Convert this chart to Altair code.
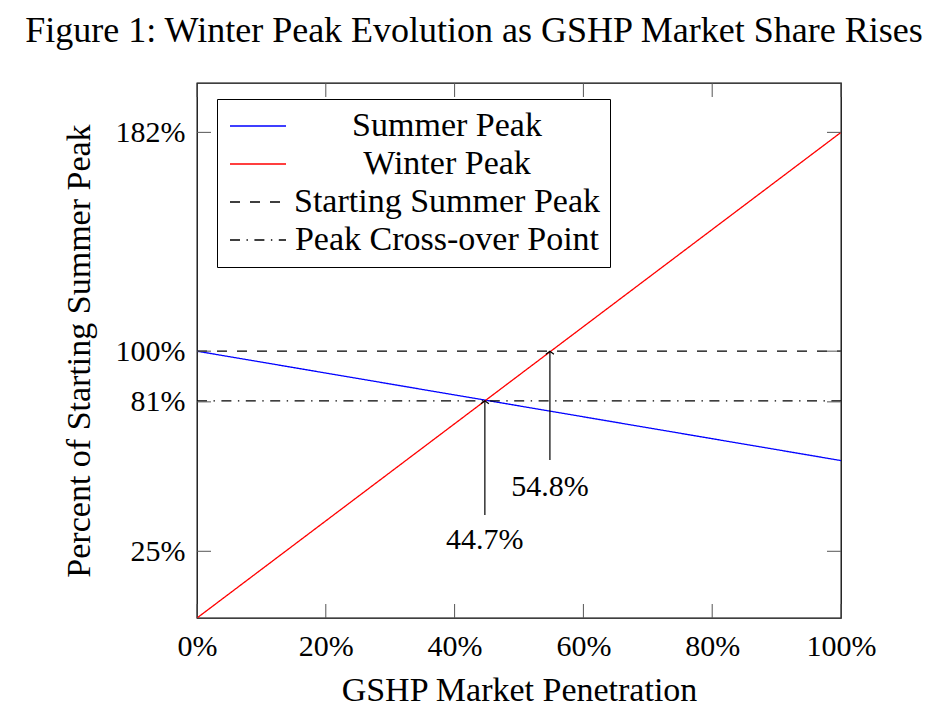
import altair as alt
import pandas as pd

FONT = "Liberation Serif"

# ---- data ----
series_names = ["Summer Peak", "Winter Peak", "Starting Summer Peak", "Peak Cross-over Point"]
series_x = [[0, 100], [0, 100], [0, 100], [0, 100]]
series_y = [[100, 59], [0, 182], [100, 100], [81.4, 81.4]]
series_colors = ["#0000ff", "#ff0000", "#000000", "#000000"]
series_dash = [[1, 0], [1, 0], [10, 10], [10, 6.5, 1.4, 6.5]]

x_ticks = [0, 20, 40, 60, 80, 100]
y_ticks = [25, 81, 100, 182]

arrow_x = [44.7, 54.8]
arrow_y_from = [38.6, 59.2]
arrow_y_to = [81.4, 100]
arrow_label = ["44.7%", "54.8%"]
arrow_label_y = [29.2, 49.0]

rows = []
for n, xs, ys in zip(series_names, series_x, series_y):
    for xv, yv in zip(xs, ys):
        rows.append({"series": n, "x": xv, "y": yv})
lines_df = pd.DataFrame(rows)
arrows_df = pd.DataFrame({"x": arrow_x, "y0": arrow_y_from, "y1": arrow_y_to,
                          "label": arrow_label, "ly": arrow_label_y})
xt_df = pd.DataFrame({"x": x_ticks})
yt_df = pd.DataFrame({"y": y_ticks})

W, H = 644, 535
TICK = 14

xscale = alt.Scale(domain=[0, 100], nice=False, zero=False)
yscale = alt.Scale(domain=[0, 200.5], nice=False, zero=False)

legend = alt.Legend(
    title=None, orient="none", legendX=20, legendY=16,
    symbolType="M-1,0H3", symbolSize=784, symbolStrokeWidth=1.3,
    labelFont=FONT, labelFontSize=34, labelColor="black",
    labelAlign="center", labelOffset=186, labelLimit=500,
    padding=10, rowPadding=4,
    strokeColor="black", fillColor="white",
)

xenc = alt.X("x:Q", scale=xscale,
             axis=alt.Axis(values=x_ticks, title="GSHP Market Penetration",
                           labelExpr="datum.value + '%'", grid=False, ticks=False,
                           domain=False, labelFont=FONT, labelFontSize=30,
                           labelColor="black", labelPadding=13, labelFlush=False,
                           labelOverlap=False,
                           titleFont=FONT, titleFontSize=34, titleFontWeight="normal",
                           titleColor="black", titlePadding=12))
yenc = alt.Y("y:Q", scale=yscale,
             axis=alt.Axis(values=y_ticks, title="Percent of Starting Summer Peak",
                           labelExpr="datum.value + '%'", grid=False, ticks=False,
                           domain=False, labelFont=FONT, labelFontSize=30,
                           labelColor="black", labelPadding=12, labelFlush=False,
                           labelOverlap=False,
                           titleFont=FONT, titleFontSize=34, titleFontWeight="normal",
                           titleColor="black", titlePadding=19))

lines = alt.Chart(lines_df).mark_line(strokeWidth=1.3, clip=True).encode(
    x=xenc, y=yenc,
    color=alt.Color("series:N", scale=alt.Scale(domain=series_names, range=series_colors), legend=legend),
    strokeDash=alt.StrokeDash("series:N", scale=alt.Scale(domain=series_names, range=series_dash), legend=legend),
    detail="series:N",
)

tick_color = "#555555"
xt_bottom = alt.Chart(xt_df).mark_rule(color=tick_color, strokeWidth=1).encode(
    x=alt.X("x:Q", scale=xscale), y=alt.value(H), y2=alt.value(H - TICK))
xt_top = alt.Chart(xt_df).mark_rule(color=tick_color, strokeWidth=1).encode(
    x=alt.X("x:Q", scale=xscale), y=alt.value(0), y2=alt.value(TICK))
yt_left = alt.Chart(yt_df).mark_rule(color=tick_color, strokeWidth=1).encode(
    y=alt.Y("y:Q", scale=yscale), x=alt.value(0), x2=alt.value(TICK))
yt_right = alt.Chart(yt_df).mark_rule(color=tick_color, strokeWidth=1).encode(
    y=alt.Y("y:Q", scale=yscale), x=alt.value(W - TICK), x2=alt.value(W))

arrow_lines = alt.Chart(arrows_df).mark_rule(color="black", strokeWidth=1.2).encode(
    x=alt.X("x:Q", scale=xscale), y=alt.Y("y0:Q", scale=yscale), y2="y1:Q")
arrow_heads = alt.Chart(arrows_df).mark_point(
    shape="M-1,0.75L0,0L1,0.75", filled=False, color="black", strokeWidth=1.2,
    size=64, opacity=1).encode(
    x=alt.X("x:Q", scale=xscale), y=alt.Y("y1:Q", scale=yscale))
arrow_text = alt.Chart(arrows_df).mark_text(
    font=FONT, fontSize=30, color="black", align="center", baseline="middle").encode(
    x=alt.X("x:Q", scale=xscale), y=alt.Y("ly:Q", scale=yscale), text="label:N")

chart = alt.layer(
    lines, xt_bottom, xt_top, yt_left, yt_right, arrow_lines, arrow_heads, arrow_text
).properties(
    width=W, height=H,
    background="white",
    title=alt.TitleParams(
        "Figure 1: Winter Peak Evolution as GSHP Market Share Rises",
        font=FONT, fontSize=36, fontWeight="normal", color="black",
        anchor="middle", dx=-45, offset=33),
    autosize=alt.AutoSizeParams(type="none"),
    padding={"left": 189, "top": 75, "right": 91, "bottom": 88},
).configure_view(stroke="black", strokeWidth=1.3)

chart.save("out.html", embed_options={"renderer": "svg", "actions": False})
